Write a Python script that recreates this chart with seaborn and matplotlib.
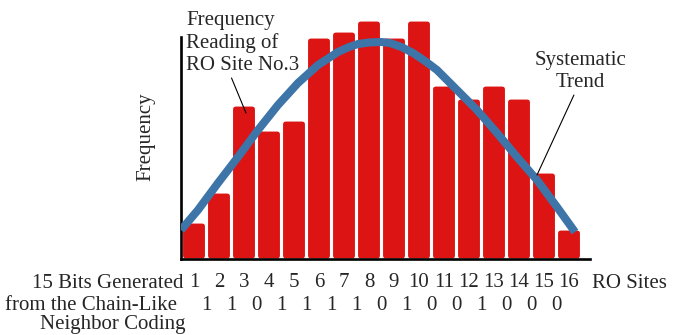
import matplotlib
matplotlib.use("Agg")
import matplotlib.pyplot as plt
from matplotlib.patches import FancyBboxPatch
import seaborn as sns

sns.set_style("white")
plt.rcParams['font.family'] = ['Liberation Serif', 'DejaVu Serif']

# frequency reading of each RO site (arbitrary units)
sites = list(range(1, 17))
freq = [36, 66, 153, 128, 138, 221, 227, 238, 221, 238, 173, 160, 173, 160, 86, 29]
bits = ["1", "1", "0", "1", "1", "1", "1", "0", "1", "0", "0", "1", "0", "0", "0"]

# systematic trend curve
trend_x = [0.48, 1.16, 1.96, 2.76, 3.56, 4.36, 5.16, 5.96, 6.76, 7.2, 7.56, 8.0,
           8.48, 8.84, 9.3, 9.76, 10.24, 10.72, 11.52, 12.32, 13.12, 13.92,
           14.72, 15.52, 16.24]
trend_y = [29, 49, 76, 102, 129, 154, 176, 194, 207, 212, 215, 216.5,
           217, 216, 212, 206, 198, 189, 169, 149, 126, 102,
           79, 52, 27]

red = "#dc1414"
blue = "#3e75a8"

fig = plt.figure(figsize=(6.84, 3.35), dpi=100)
ax = fig.add_axes([181 / 684, 76 / 335, 409 / 684, 244 / 335])

sns.barplot(x=sites, y=freq, native_scale=True, width=0.92, color=red,
            saturation=1, edgecolor="white", linewidth=0.8, ax=ax)

# rounded bar tops
for p in list(ax.patches):
    x0, y0 = p.get_x(), p.get_y()
    w, h = p.get_width(), p.get_height()
    p.remove()
    ax.add_patch(FancyBboxPatch((x0, y0), w, h,
                                boxstyle="round,pad=0,rounding_size=0.14",
                                mutation_aspect=25, fc=red, ec="white",
                                lw=0.8, zorder=2))

sns.lineplot(x=trend_x, y=trend_y, color=blue, lw=5.8, sort=False,
             estimator=None, ax=ax, zorder=3, solid_capstyle="butt",
             solid_joinstyle="round")

ax.set_xlim(0.48, 16.84)
ax.set_ylim(0, 244)

for s in ["top", "right"]:
    ax.spines[s].set_visible(False)
for s in ["left", "bottom"]:
    ax.spines[s].set_color("black")
    ax.spines[s].set_linewidth(1.9)
ax.spines["left"].set_bounds(0, 222)

ax.set_yticks([])
ax.set_xticks(sites)
ax.set_xticklabels([str(s) for s in sites], fontsize=15)
ax.tick_params(axis="x", length=0, pad=10)

ax.set_ylabel("Frequency", fontsize=15)
ax.yaxis.set_label_coords(-0.062, 0.5)

fs = 15
ax.text(16.9, -24, "RO Sites", fontsize=fs, va="center", ha="left", clip_on=False)
ax.text(0.56, -24, "15 Bits Generated", fontsize=fs, va="center", ha="right", clip_on=False)
ax.text(0.3, -46, "from the Chain-Like", fontsize=fs, va="center", ha="right", clip_on=False)
ax.text(0.64, -66, "Neighbor Coding", fontsize=fs, va="center", ha="right", clip_on=False)
for i, b in enumerate(bits):
    ax.text(sites[i] + 0.5, -46, b, fontsize=fs, va="center", ha="center", clip_on=False)

ax.annotate("Frequency\nReading of\nRO Site No.3", xy=(3.08, 146), xytext=(0.68, 248),
            fontsize=fs, va="top", ha="left", linespacing=1.2,
            arrowprops=dict(arrowstyle="-", color="black", lw=0.8,
                            shrinkA=0, shrinkB=0, relpos=(0.39, 0.0)),
            annotation_clip=False, zorder=5)
ax.annotate("Systematic\nTrend", xy=(14.72, 84), xytext=(16.44, 208),
            fontsize=fs, va="top", ha="center", linespacing=1.2,
            arrowprops=dict(arrowstyle="-", color="black", lw=0.8,
                            shrinkA=0, shrinkB=0, relpos=(0.45, 0.0)),
            annotation_clip=False, zorder=5)

fig.savefig("out.png", dpi=100)
